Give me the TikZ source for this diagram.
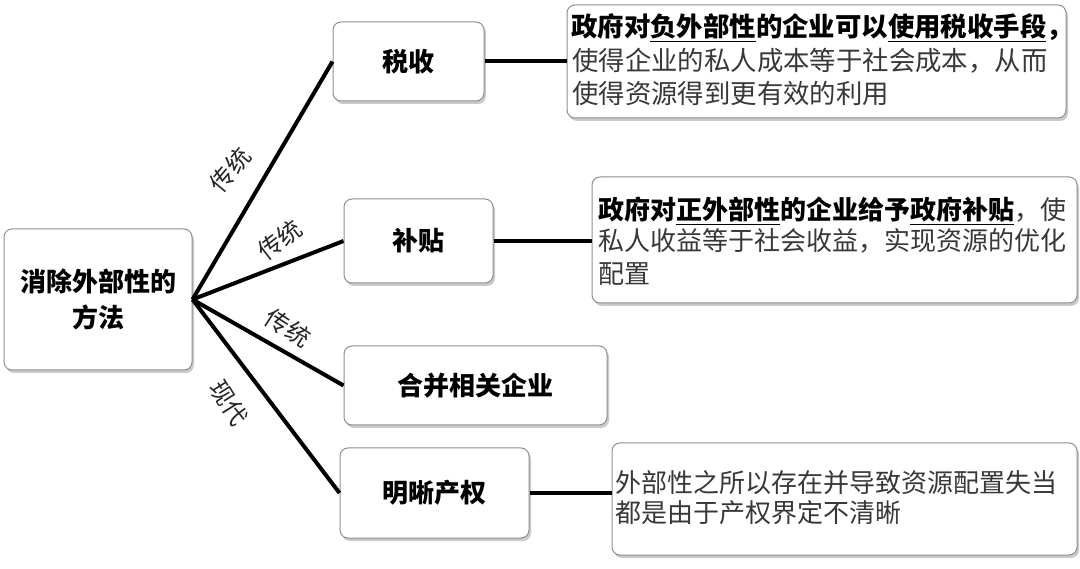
\documentclass[tikz,border=0pt]{standalone}
\usepackage{fontspec}
\setmainfont{Noto Sans CJK SC}
\usetikzlibrary{shadows}
\definecolor{boxline}{HTML}{8F8F8F}
\definecolor{desctext}{HTML}{383838}
\tikzset{
  box/.style={draw=boxline, line width=1pt, rounded corners=8pt, fill=white,
    drop shadow={shadow xshift=2pt, shadow yshift=-3pt, opacity=0.35, fill=black!60},
    inner sep=0pt},
  link/.style={line width=4pt, black},
  lbl/.style={font=\fontsize{24}{24}\selectfont, text=black!85, inner sep=0pt},
  head/.style={font=\fontsize{26}{36}\selectfont\bfseries, align=center},
  dline/.style={anchor=base west, inner sep=0pt, font=\fontsize{26.4}{26.4}\selectfont, text=desctext},
  dlinesm/.style={dline, font=\fontsize{26}{26}\selectfont},
}
\begin{document}
\begin{tikzpicture}[x=1pt,y=-1pt]
\useasboundingbox (0,0) rectangle (1080,569);
% main boxes
\node[box, head, minimum width=188, minimum height=141] (root) at (98,299.5) {消除外部性的\\方法};
\node[box, head, minimum width=151, minimum height=79] (tax) at (408.5,61.5) {税收};
\node[box, head, minimum width=149, minimum height=84] (sub) at (418.5,241) {补贴};
\node[box, head, minimum width=263, minimum height=79] (merge) at (475.5,385.5) {合并相关企业};
\node[box, head, minimum width=189, minimum height=90] (prop) at (434.5,493) {明晰产权};
% description boxes
\node[box, minimum width=499, minimum height=113] (taxd) at (816.5,61.5) {};
\node[box, minimum width=485, minimum height=126] (subd) at (834.5,240) {};
\node[box, minimum width=465, minimum height=112] (propd) at (844.5,499) {};
% connectors
\draw[link] (root.east) -- (tax.west);
\draw[link] (root.east) -- (sub.west);
\draw[link] (root.east) -- (merge.west);
\draw[link] (root.east) -- (prop.west);
\draw[link] (tax.east) -- (taxd.west);
\draw[link] (sub.east) -- (sub.east -| subd.west);
\draw[link] (prop.east) -- (prop.east -| propd.west);
% connector labels
\node[lbl, rotate=50] (l1) at (230,170) {传统};
\node[lbl, rotate=38] (l2) at (280,240) {传统};
\node[lbl, rotate=-33] (l3) at (288,328) {传统};
\node[lbl, rotate=-58] (l4) at (229,403) {现代};
% tax description
\node[dline, text=black] (t1) at (571,37) {\bfseries 政府对\underline{负外部性}的企业可以\underline{使用税收手段}，};
\node[dline] (t2) at (572,71) {使得企业的私人成本等于社会成本，从而};
\node[dline] (t3) at (572,104) {使得资源得到更有效的利用};
% subsidy description
\node[dlinesm, text=black] (s1) at (598,220) {{\bfseries 政府对\underline{正外部性}的企业给予\underline{政府补贴}}{\color{desctext}，使}};
\node[dlinesm] (s2) at (598,251) {私人收益等于社会收益，实现资源的优化};
\node[dlinesm] (s3) at (598,284) {配置};
% property description
\node[dlinesm] (p1) at (615,493) {外部性之所以存在并导致资源配置失当};
\node[dlinesm] (p2) at (615,522) {都是由于产权界定不清晰};
\end{tikzpicture}
\end{document}
